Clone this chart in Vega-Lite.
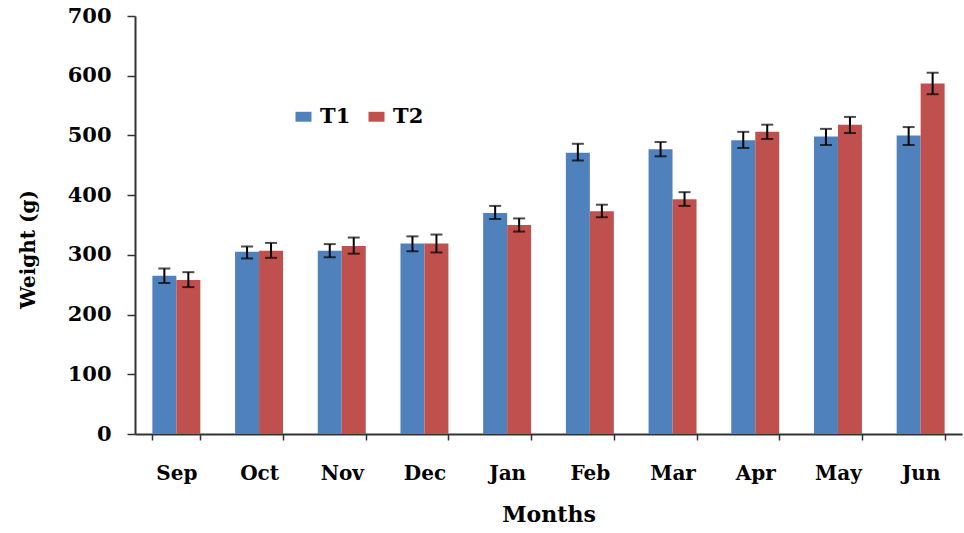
{
  "$schema": "https://vega.github.io/schema/vega-lite/v6.json",
  "width": 827,
  "height": 418,
  "autosize": {"type": "none"},
  "padding": {"left": 135, "top": 16, "right": 2, "bottom": 99},
  "background": "white",
  "config": {
    "view": {"stroke": null},
    "font": "DejaVu Serif",
    "axis": {
      "labelFont": "DejaVu Serif",
      "titleFont": "DejaVu Serif",
      "labelFontWeight": "bold",
      "titleFontWeight": "bold",
      "labelColor": "#000",
      "titleColor": "#000",
      "domainColor": "#333",
      "tickColor": "#333",
      "grid": false
    }
  },
  "data": {
    "values": [
      {"month": "Sep", "group": "T1", "weight": 265, "lo": 253, "hi": 277},
      {"month": "Sep", "group": "T2", "weight": 258, "lo": 246, "hi": 271},
      {"month": "Oct", "group": "T1", "weight": 305, "lo": 294, "hi": 314},
      {"month": "Oct", "group": "T2", "weight": 307, "lo": 295, "hi": 320},
      {"month": "Nov", "group": "T1", "weight": 307, "lo": 296, "hi": 318},
      {"month": "Nov", "group": "T2", "weight": 315, "lo": 302, "hi": 329},
      {"month": "Dec", "group": "T1", "weight": 319, "lo": 306, "hi": 331},
      {"month": "Dec", "group": "T2", "weight": 319, "lo": 304, "hi": 334},
      {"month": "Jan", "group": "T1", "weight": 370, "lo": 360, "hi": 382},
      {"month": "Jan", "group": "T2", "weight": 350, "lo": 339, "hi": 361},
      {"month": "Feb", "group": "T1", "weight": 471, "lo": 458, "hi": 486},
      {"month": "Feb", "group": "T2", "weight": 373, "lo": 363, "hi": 384},
      {"month": "Mar", "group": "T1", "weight": 477, "lo": 465, "hi": 489},
      {"month": "Mar", "group": "T2", "weight": 393, "lo": 382, "hi": 405},
      {"month": "Apr", "group": "T1", "weight": 492, "lo": 479, "hi": 506},
      {"month": "Apr", "group": "T2", "weight": 506, "lo": 494, "hi": 518},
      {"month": "May", "group": "T1", "weight": 498, "lo": 484, "hi": 511},
      {"month": "May", "group": "T2", "weight": 518, "lo": 504, "hi": 531},
      {"month": "Jun", "group": "T1", "weight": 500, "lo": 484, "hi": 514},
      {"month": "Jun", "group": "T2", "weight": 587, "lo": 569, "hi": 605}
    ]
  },
  "encoding": {
    "x": {
      "field": "month",
      "type": "nominal",
      "sort": ["Sep","Oct","Nov","Dec","Jan","Feb","Mar","Apr","May","Jun"],
      "scale": {"paddingInner": 0.42, "paddingOuter": 0.21},
      "axis": {
        "title": "Months",
        "labelAngle": 0,
        "labelFontSize": 20,
        "titleFontSize": 22,
        "labelPadding": 23,
        "titlePadding": 21,
        "tickBand": "extent",
        "tickSize": 6,
        "domainWidth": 2,
        "tickWidth": 1.5
      }
    },
    "xOffset": {"field": "group", "type": "nominal"},
    "color": {
      "field": "group",
      "type": "nominal",
      "scale": {"domain": ["T1", "T2"], "range": ["#4F81BD", "#C0504D"]},
      "legend": {
        "title": null,
        "orient": "none",
        "direction": "horizontal",
        "legendX": 158,
        "legendY": 90,
        "symbolType": "M-1,-0.62H1V0.62H-1Z",
        "symbolSize": 256,
        "symbolStrokeWidth": 0,
        "labelFont": "DejaVu Serif",
        "labelFontWeight": "bold",
        "labelFontSize": 21,
        "labelColor": "#000",
        "labelOffset": 6,
        "columnPadding": 15
      }
    }
  },
  "layer": [
    {
      "mark": {"type": "bar"},
      "encoding": {
        "y": {
          "field": "weight",
          "type": "quantitative",
          "scale": {"domain": [0, 700]},
          "axis": {
            "title": "Weight (g)",
            "values": [0,100,200,300,400,500,600,700],
            "labelFontSize": 21,
            "titleFontSize": 20,
            "tickSize": 8,
            "labelPadding": 16,
            "titleX": -107,
            "titleY": 233,
            "titleBaseline": "middle",
            "titleAlign": "center",
            "domainWidth": 2,
            "tickWidth": 1.5
          }
        }
      }
    },
    {
      "mark": {"type": "rule", "color": "#000", "strokeWidth": 2},
      "encoding": {
        "y": {"field": "lo", "type": "quantitative"},
        "y2": {"field": "hi"},
        "color": {"value": "#000"}
      }
    },
    {
      "mark": {"type": "tick", "color": "#000", "thickness": 2, "size": 12},
      "encoding": {
        "y": {"field": "lo", "type": "quantitative"},
        "color": {"value": "#000"}
      }
    },
    {
      "mark": {"type": "tick", "color": "#000", "thickness": 2, "size": 12},
      "encoding": {
        "y": {"field": "hi", "type": "quantitative"},
        "color": {"value": "#000"}
      }
    }
  ]
}
